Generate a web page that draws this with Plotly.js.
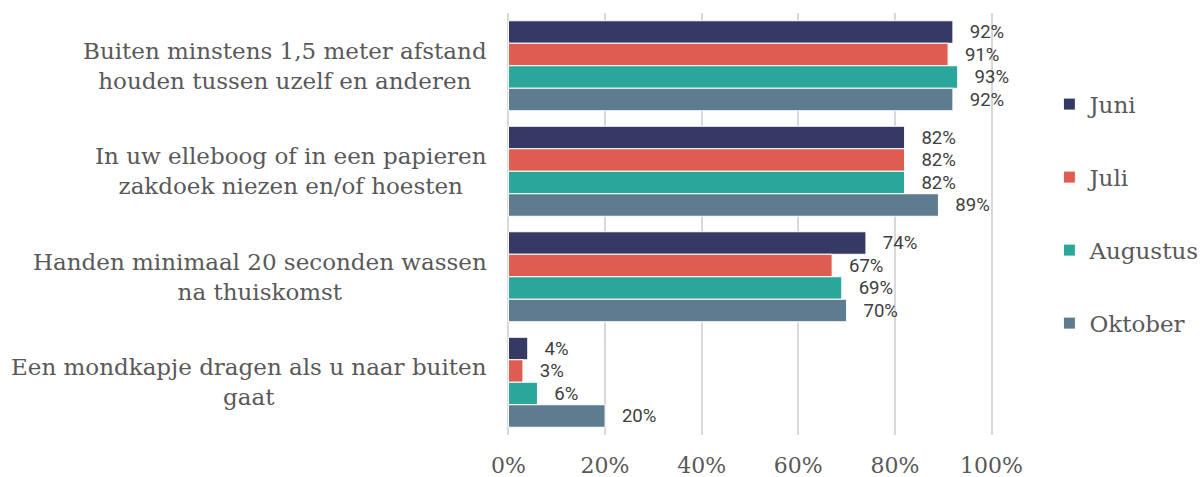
<!DOCTYPE html>
<html>
<head>
<meta charset="utf-8">
<script src="https://cdn.plot.ly/plotly-3.0.1.min.js"></script>
<style>html,body{margin:0;padding:0;background:#fff;}#chart{width:1201px;height:477px;}</style>
</head>
<body>
<div id="chart"></div>
<script>
var categories = [
  "Buiten minstens 1,5 meter afstand<br>houden tussen uzelf en anderen",
  "In uw elleboog of in een papieren<br>zakdoek niezen en/of hoesten",
  "Handen minimaal 20 seconden wassen<br>na thuiskomst",
  "Een mondkapje dragen als u naar buiten<br>gaat"
];
var seriesNames = ["Juni", "Juli", "Augustus", "Oktober"];
var juni = [92, 82, 74, 4];
var juli = [91, 82, 67, 3];
var augustus = [93, 82, 69, 6];
var oktober = [92, 89, 70, 20];
var xTickVals = [0, 20, 40, 60, 80, 100];
var xTickText = ["0%", "20%", "40%", "60%", "80%", "100%"];

var colors = ["#373965", "#DF5C50", "#2AA79A", "#5E7B8F"];
var allValues = [juni, juli, augustus, oktober];
var legendIds = ["legend", "legend2", "legend3", "legend4"];
var legendY = [0.784, 0.611, 0.438, 0.265];

var traces = allValues.map(function (vals, i) {
  return {
    type: "bar",
    orientation: "h",
    name: seriesNames[i],
    x: vals,
    y: categories,
    legend: legendIds[i],
    marker: { color: colors[i], line: { color: "#ffffff", width: 1 } },
    text: vals.map(function (v) { return "\u00a0\u00a0\u00a0" + v + "%"; }),
    textposition: "outside",
    cliponaxis: false,
    textfont: { family: "Roboto, sans-serif", size: 19, color: "#404040" },
    hoverinfo: "skip"
  };
});

var serif = "'DejaVu Serif', serif";
var annotations = categories.map(function (c) {
  return {
    xref: "paper", yref: "y", x: 0, y: c, xanchor: "right", yanchor: "middle",
    xshift: -18, text: c, align: "center", showarrow: false,
    font: { family: serif, size: 23, color: "#595959" }
  };
});

var layout = {
  width: 1201, height: 477,
  margin: { l: 507, r: 207.5, t: 13, b: 42, autoexpand: false },
  paper_bgcolor: "#ffffff", plot_bgcolor: "#ffffff",
  barmode: "group", bargap: 0.147, bargroupgap: 0,
  showlegend: true,
  xaxis: {
    range: [-0.3, 100.3], tickvals: xTickVals, ticktext: xTickText,
    showgrid: true, gridcolor: "#D9D9D9", gridwidth: 2,
    zeroline: false, showline: false, ticks: "",
    ticklabelstandoff: 15,
    tickfont: { family: serif, size: 22, color: "#595959" },
    fixedrange: true
  },
  yaxis: {
    autorange: "reversed", showticklabels: false, showgrid: false,
    zeroline: false, showline: false, ticks: "", fixedrange: true
  },
  annotations: annotations
};
legendIds.forEach(function (id, i) {
  layout[id] = {
    x: 1.116, xanchor: "left", y: legendY[i], yanchor: "middle",
    font: { family: serif, size: 23, color: "#595959" },
    bgcolor: "rgba(0,0,0,0)", itemclick: false, itemdoubleclick: false
  };
});

Plotly.newPlot("chart", traces, layout, { displayModeBar: false, staticPlot: true });
</script>
</body>
</html>
